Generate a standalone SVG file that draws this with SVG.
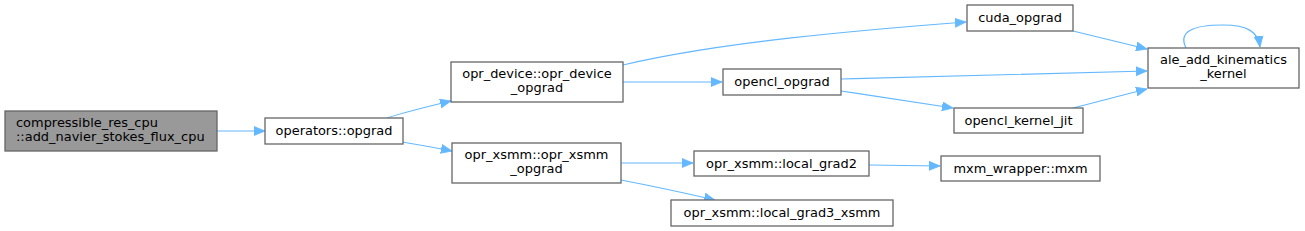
<svg xmlns="http://www.w3.org/2000/svg" width="1305" height="231" viewBox="0 0 1305 231">
<style>
.n rect{fill:#ffffff;stroke:#666666;stroke-width:1.3}
.n.hl rect{fill:#999999}
.n text{font-family:"DejaVu Sans",sans-serif;font-size:12.95px;fill:#000000;text-anchor:middle}
.e path{fill:none;stroke:#63b8ff;stroke-width:1.2}
</style>
<defs>
<marker id="ah" markerUnits="userSpaceOnUse" markerWidth="12" markerHeight="10" refX="11" refY="5" orient="auto">
<path d="M0,0.5 L11,5 L0,9.5 Z" fill="#63b8ff" stroke="#63b8ff" stroke-width="0.8"/>
</marker>
</defs>
<rect width="1305" height="231" fill="#ffffff"/>
<g id="connectors" class="e">
<path d="M217,131 L265,131" marker-end="url(#ah)"/>
<path d="M387,118 C405,112 430,106 451,101" marker-end="url(#ah)"/>
<path d="M402,142 C420,145 437,148 452,151" marker-end="url(#ah)"/>
<path d="M623,65 C720,42 860,30 966,22" marker-end="url(#ah)"/>
<path d="M623,82 L722,82" marker-end="url(#ah)"/>
<path d="M841,79 C950,76 1060,73 1147,71" marker-end="url(#ah)"/>
<path d="M841,91 C880,97 920,103 953,108" marker-end="url(#ah)"/>
<path d="M1073,31 C1097,37 1122,43 1147,49" marker-end="url(#ah)"/>
<path d="M1073,108 C1097,102 1122,95 1147,89" marker-end="url(#ah)"/>
<path d="M1186,48 C1178,32 1192,25 1223,25 C1248,25 1258,32 1260,47" marker-end="url(#ah)"/>
<path d="M621,163 L693,163" marker-end="url(#ah)"/>
<path d="M621,180 C652,186 685,193 715,200" marker-end="url(#ah)"/>
<path d="M869,165 L940,166" marker-end="url(#ah)"/>
</g>
<g id="node1" class="n hl">
<rect x="5" y="111" width="212" height="40"/>
<text x="16" y="127" style="text-anchor:start">compressible_res_cpu</text>
<text x="16" y="141" style="text-anchor:start">::add_navier_stokes_flux_cpu</text>
</g>
<g id="node2" class="n">
<rect x="265" y="118" width="138" height="26"/>
<text x="334" y="135">operators::opgrad</text>
</g>
<g id="node3" class="n">
<rect x="451" y="62" width="172" height="40"/>
<text x="537" y="78">opr_device::opr_device</text>
<text x="537" y="92">_opgrad</text>
</g>
<g id="node4" class="n">
<rect x="452" y="143" width="169" height="40"/>
<text x="536.5" y="159">opr_xsmm::opr_xsmm</text>
<text x="536.5" y="173">_opgrad</text>
</g>
<g id="node5" class="n">
<rect x="967" y="5" width="106" height="26"/>
<text x="1020" y="22">cuda_opgrad</text>
</g>
<g id="node6" class="n">
<rect x="1148" y="48" width="151" height="40"/>
<text x="1223.5" y="64">ale_add_kinematics</text>
<text x="1223.5" y="78">_kernel</text>
</g>
<g id="node7" class="n">
<rect x="723" y="69" width="118" height="26"/>
<text x="782" y="86">opencl_opgrad</text>
</g>
<g id="node8" class="n">
<rect x="954" y="108" width="129" height="25"/>
<text x="1018.5" y="125">opencl_kernel_jit</text>
</g>
<g id="node9" class="n">
<rect x="694" y="151" width="175" height="25"/>
<text x="781.5" y="168">opr_xsmm::local_grad2</text>
</g>
<g id="node10" class="n">
<rect x="941" y="156" width="159" height="25"/>
<text x="1020.5" y="173">mxm_wrapper::mxm</text>
</g>
<g id="node11" class="n">
<rect x="671" y="200" width="222" height="26"/>
<text x="782" y="217">opr_xsmm::local_grad3_xsmm</text>
</g>
</svg>
